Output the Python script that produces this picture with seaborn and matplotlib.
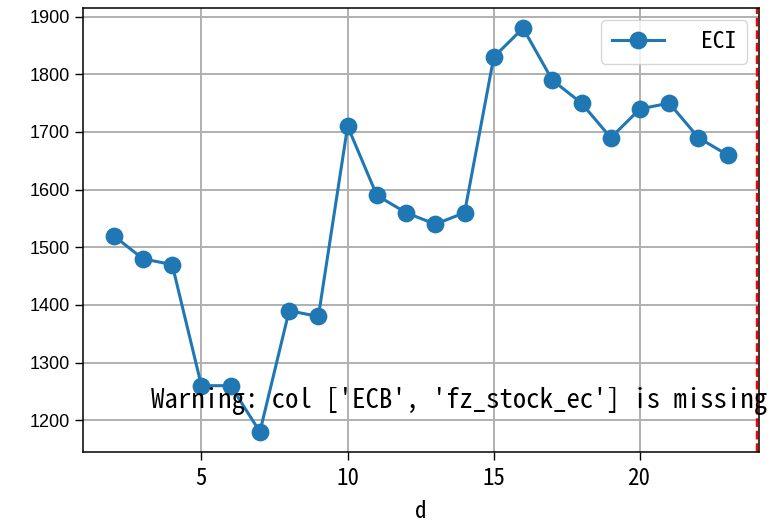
import numpy as np
import pandas as pd
import seaborn as sns
import matplotlib
matplotlib.use('Agg')
import matplotlib.pyplot as plt

# data
days = [2, 3, 4, 5, 6, 7, 8, 9, 10, 11, 12, 13, 14, 15, 16, 17, 18, 19, 20, 21, 22, 23]
eci = [1520, 1480, 1470, 1260, 1260, 1180, 1390, 1380, 1710, 1590, 1560, 1540, 1560,
       1830, 1880, 1790, 1750, 1690, 1740, 1750, 1690, 1660]
cutoff_day = 24
warn_msg = "Warning: col ['ECB', 'fz_stock_ec'] is missing"

mono = ['Noto Sans Mono CJK SC', 'Noto Sans Mono CJK JP', 'DejaVu Sans Mono']

df = pd.DataFrame({'d': days, 'ECI': eci})

fig = plt.figure(figsize=(7.81, 5.22), dpi=100)
ax = fig.add_axes([0.1063, 0.1341, 0.8655, 0.8506])

sns.lineplot(data=df, x='d', y='ECI', marker='o', markersize=12.8, linewidth=2.2,
             color='#1f77b4', markeredgewidth=0, label='ECI', ax=ax)
ax.axvline(cutoff_day, color='red', linestyle='--', linewidth=1.7)
ax.set_xlim(0.95, 24.07)
ax.set_ylim(1145, 1915)

ax.grid(True, color='#b0b0b0', linewidth=1.4)
ax.set_axisbelow(True)
for s in ax.spines.values():
    s.set_linewidth(1.1)
    s.set_color('black')
ax.tick_params(length=6, width=1.0)
ax.tick_params(axis='x', pad=5)

ax.set_xticks([5, 10, 15, 20])
ax.set_xticklabels(['5', '10', '15', '20'])
for lab in ax.get_xticklabels():
    lab.set_fontfamily(mono)
    lab.set_fontsize(16.5)
ax.set_yticks(np.arange(1200, 1901, 100))
ax.set_yticklabels([str(v) for v in range(1200, 1901, 100)])
for lab in ax.get_yticklabels():
    lab.set_fontfamily(['Liberation Sans', 'DejaVu Sans'])
    lab.set_fontsize(13)
ax.set_xlabel('d', family=mono, fontsize=16.5, labelpad=7)
ax.set_ylabel('')

ax.text(0.1, 0.1, warn_msg, transform=ax.transAxes, family=mono, fontsize=19.3)

leg = ax.legend(loc='upper right', prop={'family': mono, 'size': 17},
                handlelength=2.2, handletextpad=1.6, borderpad=0.45)

plt.savefig('out.png', dpi=100)
